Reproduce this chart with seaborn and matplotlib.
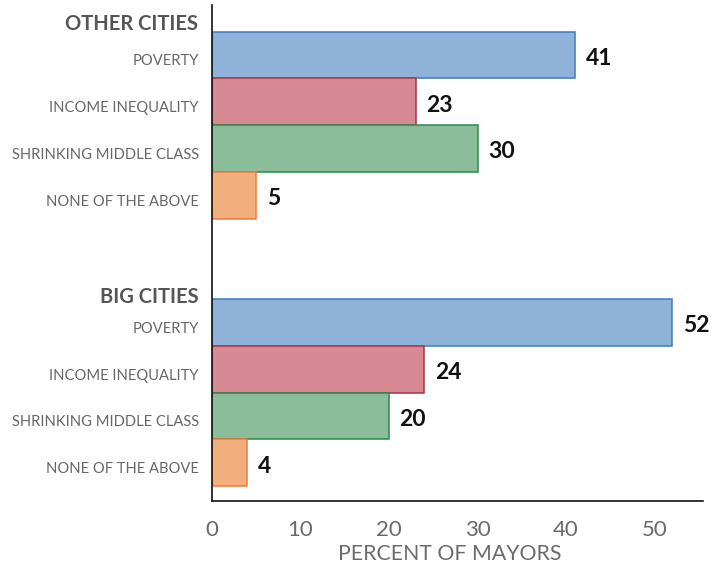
import matplotlib
matplotlib.use("Agg")
import matplotlib.pyplot as plt
from matplotlib.transforms import ScaledTranslation
import seaborn as sns
import pandas as pd
import numpy as np

groups = ["OTHER CITIES", "BIG CITIES"]
issues = ["POVERTY", "INCOME INEQUALITY", "SHRINKING MIDDLE CLASS", "NONE OF THE ABOVE"]
other_cities = [41, 23, 30, 5]
big_cities = [52, 24, 20, 4]
x_ticks = [0, 10, 20, 30, 40, 50]
x_label = "PERCENT OF MAYORS"

fills = ["#8eb2d8", "#d78a93", "#8bbd9a", "#f3ae7e"]
edges = ["#3f7bc0", "#a83447", "#2e8a4c", "#ee7a3c"]

sns.set_theme(style="white")
plt.rcParams["font.family"] = ["Lato", "DejaVu Sans"]

# layout: row positions (group offset in row units)
group_offset = [0.0, 5.71]
rows = []
for g, vals, off in zip(groups, [other_cities, big_cities], group_offset):
    for i, (iss, v) in enumerate(zip(issues, vals)):
        rows.append({"group": g, "issue": iss, "value": v, "pos": off + i})
df = pd.DataFrame(rows)

fig = plt.figure(figsize=(7.18, 5.65), dpi=100)
ax = fig.add_axes([212 / 718, 1 - 500.7 / 565, (703.3 - 212) / 718, (500.7 - 5.3) / 565])

sns.barplot(data=df, x="value", y="pos", hue="issue", hue_order=issues,
            palette=fills, orient="h", native_scale=True, dodge=False,
            width=1.0, saturation=1, linewidth=1.1, legend=False, ax=ax)

fill_to_edge = {matplotlib.colors.to_hex(f): e for f, e in zip(fills, edges)}
for p in ax.patches:
    fc = matplotlib.colors.to_hex(p.get_facecolor())
    if fc in fill_to_edge:
        p.set_edgecolor(fill_to_edge[fc])

# value labels
for _, r in df.iterrows():
    ax.text(r["value"] + 1.2, r["pos"] + 0.07, f"{r['value']}", va="center", ha="left",
            fontsize=16.5, fontweight="bold", color="#111111")

xmax = (703.3 - 212) / 8.85
ax.set_xlim(0, xmax)
top = -1.06
bottom = 9.52
ax.set_ylim(bottom, top)

ax.set_xticks(x_ticks)
ax.set_xticklabels([str(t) for t in x_ticks], fontsize=16, color="#6a6a6a")
ax.tick_params(axis="x", length=0, pad=14)
ax.set_xlabel(x_label, fontsize=15.3, color="#6a6a6a", va="center")
ax.xaxis.set_label_coords((450 - 212) / (703.3 - 212), (565 - 554 - 64.3) / 495.4)

ax.set_yticks(list(df["pos"]))
ax.set_yticklabels(list(df["issue"]), fontsize=10.6, color="#666666")
ax.tick_params(axis="y", length=0, pad=9.5)
shift = ScaledTranslation(0, -0.05, fig.dpi_scale_trans)
for lab in ax.get_yticklabels():
    lab.set_transform(lab.get_transform() + shift)
ax.set_ylabel("")

for g, off, dy in zip(groups, group_offset, [-0.66, -0.53]):
    ax.text(-1.55, off + dy, g, ha="right", va="center", fontsize=14.5,
            fontweight="bold", color="#555555", transform=ax.transData, clip_on=False)

for s in ["top", "right"]:
    ax.spines[s].set_visible(False)
for s in ["left", "bottom"]:
    ax.spines[s].set_color("#111111")
    ax.spines[s].set_linewidth(1.2)

fig.savefig("out.png", dpi=100)
